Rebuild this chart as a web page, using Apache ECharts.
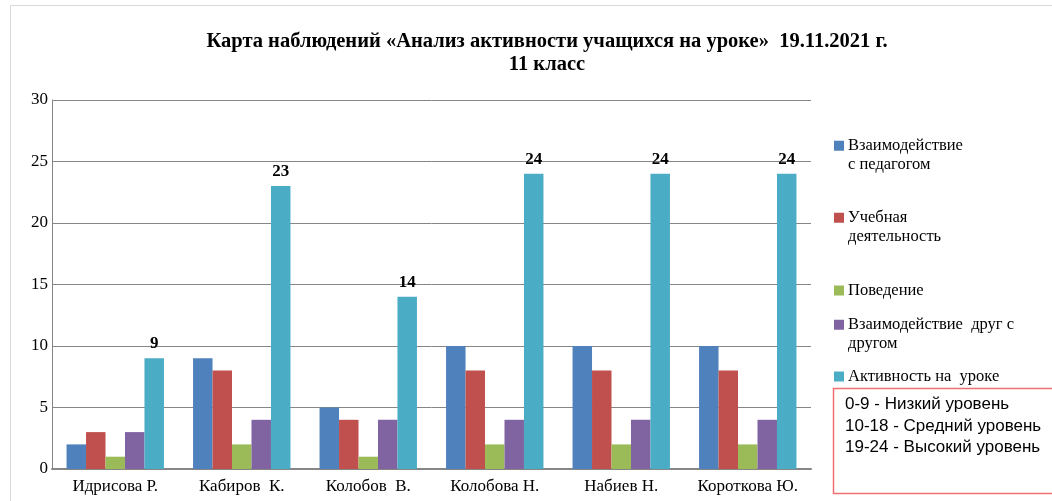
<!DOCTYPE html>
<html>
<head>
<meta charset="utf-8">
<script src="https://cdn.jsdelivr.net/npm/echarts@6/dist/echarts.min.js"></script>
<style>
html,body{margin:0;padding:0;background:#fff;}
#c{width:1052px;height:501px;}
</style>
</head>
<body>
<div id="c"></div>
<script>
const categories = ['Идрисова Р.', 'Кабиров  К.', 'Колобов  В.', 'Колобова Н.', 'Набиев Н.', 'Короткова Ю.'];
const seriesNames = ['Взаимодействие\nс педагогом', 'Учебная\nдеятельность', 'Поведение', 'Взаимодействие  друг с\nдругом', 'Активность на  уроке'];
const interaction = [2, 9, 5, 10, 10, 10];
const learning = [3, 8, 4, 8, 8, 8];
const behaviour = [1, 2, 1, 2, 2, 2];
const peerInteraction = [3, 4, 4, 4, 4, 4];
const activity = [9, 23, 14, 24, 24, 24];
const yTicks = [0, 5, 10, 15, 20, 25, 30];
const titleLines = ['Карта наблюдений «Анализ активности учащихся на уроке»  19.11.2021 г.', '11 класс'];
const levelNotes = ['0-9 - Низкий уровень', '10-18 - Средний уровень', '19-24 - Высокий уровень'];

const colors = ['#4F81BD', '#C0504D', '#9BBB59', '#8064A2', '#4BACC6'];
const values = [interaction, learning, behaviour, peerInteraction, activity];
const serif = '"Liberation Serif", "Times New Roman", serif';

const legendTops = [136, 208, 281, 315, 367];
const iconTwoLine = 'path://M0,0H10V10H0Z M0,28.6H0.01V28.61H0Z';

const chart = echarts.init(document.getElementById('c'), null, {renderer: 'canvas'});
chart.setOption({
  animation: false,
  backgroundColor: '#fff',
  color: colors,
  title: {
    text: titleLines.join('\n'),
    left: 542, top: 25, textAlign: 'center',
    textStyle: {fontFamily: serif, fontWeight: 'bold', fontSize: 20.5, color: '#000', lineHeight: 23}
  },
  legend: seriesNames.map((n, i) => {
    const two = n.indexOf('\n') >= 0;
    return {
      orient: 'vertical', left: 834, top: legendTops[i], padding: 0,
      data: [n], icon: two ? iconTwoLine : 'rect', itemWidth: 10, itemHeight: two ? 28.6 : 10, itemGap: 0,
      textStyle: {fontFamily: serif, fontSize: 16.5, color: '#000', lineHeight: 19, padding: [0, 0, 0, -1]},
      selectedMode: false
    };
  }),
  grid: {left: 52, right: 241, top: 100, bottom: 32, containLabel: false},
  xAxis: {
    type: 'category', data: categories,
    axisLine: {lineStyle: {color: '#868686', width: 2}},
    axisTick: {show: false},
    axisLabel: {interval: 0, fontFamily: serif, fontSize: 17, color: '#000', margin: 9}
  },
  yAxis: {
    type: 'value', min: yTicks[0], max: yTicks[yTicks.length - 1], interval: 5,
    axisLine: {show: true, lineStyle: {color: '#868686', width: 1}},
    axisTick: {show: false},
    splitLine: {lineStyle: {color: '#868686', width: 1}},
    axisLabel: {fontFamily: serif, fontSize: 17, color: '#000', margin: 4}
  },
  series: values.map((v, i) => ({
    type: 'bar', name: seriesNames[i], data: v,
    barGap: '0%', barCategoryGap: '23%',
    itemStyle: {color: colors[i]},
    label: i === 4 ? {show: true, position: 'top', distance: 6, fontFamily: serif, fontWeight: 'bold', fontSize: 17, color: '#000'} : {show: false}
  })),
  graphic: [
    {type: 'rect', shape: {x: 10.5, y: 5.5, width: 1100, height: 600}, style: {fill: 'none', stroke: '#D9D9D9', lineWidth: 1}, silent: true, z: -1},
    {type: 'rect', shape: {x: 833.5, y: 388.5, width: 250, height: 105}, style: {fill: '#fff', stroke: '#F07070', lineWidth: 1.5}, z: 10},
    {type: 'text', left: 845, top: 394, z: 11, style: {text: levelNotes.join('\n'), font: '17px "Liberation Sans", Arial, sans-serif', fill: '#000', lineHeight: 21.5}}
  ]
});
</script>
</body>
</html>
